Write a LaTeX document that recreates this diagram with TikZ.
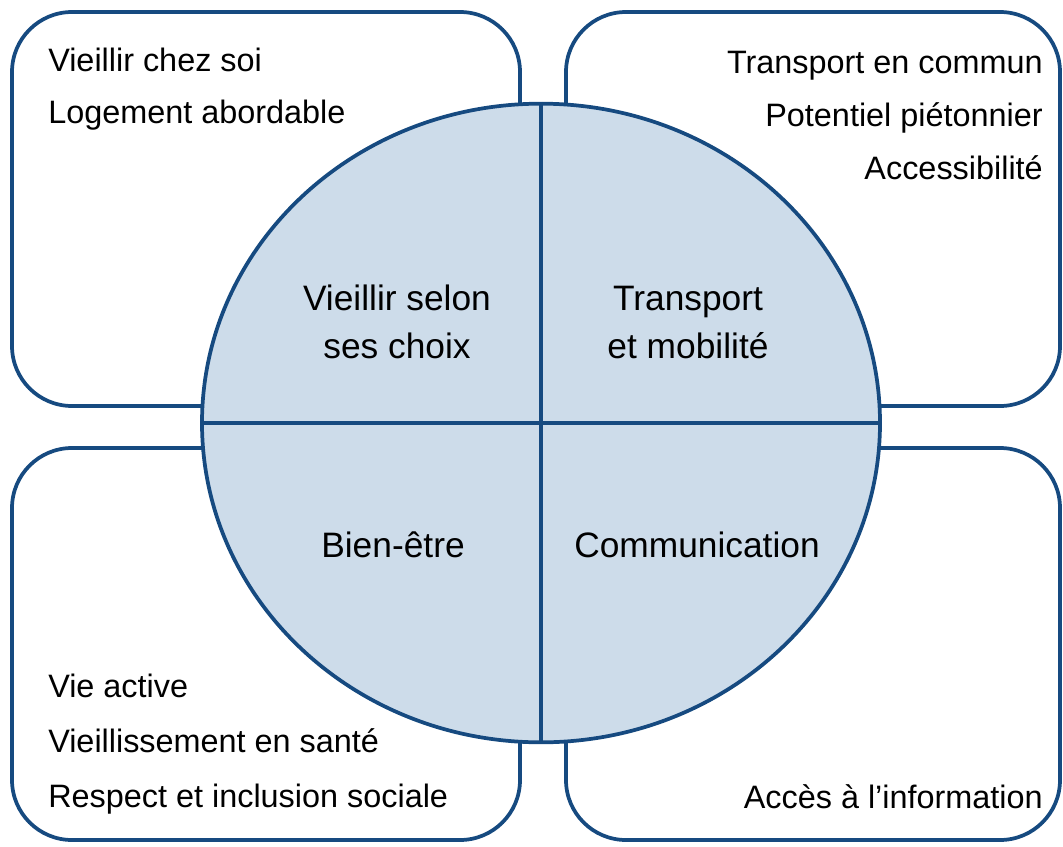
\documentclass[tikz,border=0pt]{standalone}
\usepackage{fontspec}
\setmainfont{Liberation Sans}
\usetikzlibrary{shapes.geometric}
\definecolor{lineblue}{RGB}{22,74,128}
\definecolor{fillblue}{RGB}{205,220,234}
\tikzset{
  px/.style={x=0.75pt,y=-0.75pt},
  boxline/.style={draw=lineblue,line width=2.8pt,rounded corners=45pt,fill=white},
  divider/.style={draw=lineblue,line width=2.6pt},
  sidetext/.style={inner sep=0pt,font=\fontsize{24.3pt}{29pt}\selectfont,text=black},
  centertext/.style={inner sep=0pt,font=\fontsize{26.5pt}{36pt}\selectfont,text=black,align=center},
}
\begin{document}
\begin{tikzpicture}[px]
\useasboundingbox (0,0) rectangle (1063,846);
% corner boxes
\draw[boxline] (12,12) rectangle (520,406);
\draw[boxline] (566,12) rectangle (1060,406);
\draw[boxline] (12,448) rectangle (520,840);
\draw[boxline] (566,448) rectangle (1060,840);
% central circle
\node[ellipse,draw=lineblue,line width=2.8pt,fill=fillblue,inner sep=0pt,
      minimum width=508.5pt,minimum height=479pt] (c) at (541,423) {};
\draw[divider] (c.north) -- (c.south);
\draw[divider] (c.west) -- (c.east);
% side texts
\node[sidetext,anchor=base west] (tl1) at (48,71) {Vieillir chez soi};
\node[sidetext,anchor=base west] (tl2) at (48,123) {Logement abordable};
\node[sidetext,anchor=base east] (tr1) at (1043,73) {Transport en commun};
\node[sidetext,anchor=base east] (tr2) at (1043,126) {Potentiel piétonnier};
\node[sidetext,anchor=base east] (tr3) at (1043,179) {Accessibilité};
\node[sidetext,anchor=base west] (bl1) at (48,697) {Vie active};
\node[sidetext,anchor=base west] (bl2) at (48,752) {Vieillissement en santé};
\node[sidetext,anchor=base west] (bl3) at (48,807) {Respect et inclusion sociale};
\node[sidetext,anchor=base east] (br1) at (1043,808) {Accès à l'information};
% centre labels
\node[centertext,anchor=base] (q1) at (397,310) {Vieillir selon};
\node[centertext,anchor=base] (q1b) at (397,358) {ses choix};
\node[centertext,anchor=base] (q2) at (688,310) {Transport};
\node[centertext,anchor=base] (q2b) at (688,358) {et mobilité};
\node[centertext,anchor=base] (q3) at (393,557) {Bien-être};
\node[centertext,anchor=base] (q4) at (697,557) {Communication};
\end{tikzpicture}
\end{document}
